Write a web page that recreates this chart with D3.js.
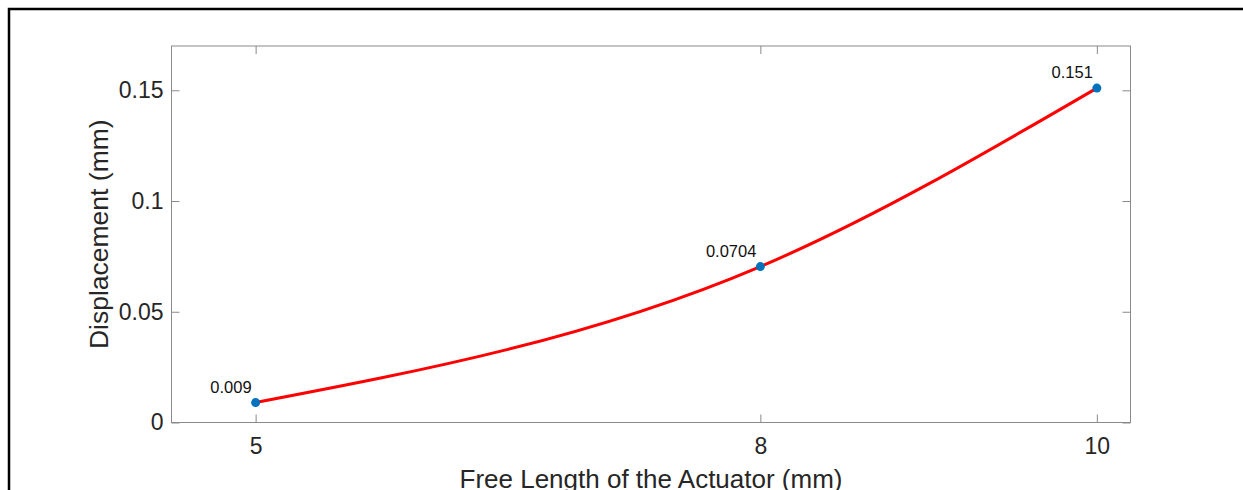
<!DOCTYPE html>
<html>
<head>
<meta charset="utf-8">
<script src="https://cdn.jsdelivr.net/npm/d3@7"></script>
<style>
  body { margin: 0; background: #fff; }
  svg { display: block; font-family: "Liberation Sans", Arial, Helvetica, sans-serif; }
</style>
</head>
<body>
<svg id="chart" width="1243" height="490"></svg>
<script>
// data
var lengths = [5, 8, 10];
var displacements = [0.009, 0.0704, 0.151];
var pointLabels = ["0.009", "0.0704", "0.151"];
var xTicks = [5, 8, 10];
var xTickLabels = ["5", "8", "10"];
var yTicks = [0, 0.05, 0.1, 0.15];
var yTickLabels = ["0", "0.05", "0.1", "0.15"];

var svg = d3.select("#chart");
// plot box edges (avoid "top", it is window.top)
var boxL = 171.5, boxR = 1130.5, boxT = 46, boxB = 422.5;

var x = d3.scaleLinear().domain([4.5, 10.2]).range([boxL, boxR]);
var y = d3.scaleLinear().domain([0, 0.17]).range([boxB, boxT]);

// outer figure frame (runs off the right/bottom edge)
svg.append("rect")
  .attr("x", 9).attr("y", 9)
  .attr("width", 1260).attr("height", 520)
  .attr("fill", "none")
  .attr("stroke", "#000")
  .attr("stroke-width", 2.5);

var tickLen = 8;
var axisColor = "#8a8a8a";

// axes box
svg.append("rect")
  .attr("x", boxL).attr("y", boxT)
  .attr("width", boxR - boxL).attr("height", boxB - boxT)
  .attr("fill", "none")
  .attr("stroke", axisColor)
  .attr("stroke-width", 1);

// ticks pointing inward on all four sides
var xAxisB = d3.axisBottom(x).tickValues(xTicks).tickSizeInner(-tickLen).tickSizeOuter(0)
  .tickPadding(15).tickFormat(function(d, i) { return xTickLabels[i]; });
var xAxisT = d3.axisTop(x).tickValues(xTicks).tickSizeInner(-tickLen).tickSizeOuter(0).tickFormat("");
var yAxisL = d3.axisLeft(y).tickValues(yTicks).tickSizeInner(-tickLen).tickSizeOuter(0)
  .tickPadding(8).tickFormat(function(d, i) { return yTickLabels[i]; });
var yAxisR = d3.axisRight(y).tickValues(yTicks).tickSizeInner(-tickLen).tickSizeOuter(0).tickFormat("");

function styleAxis(g) {
  g.attr("font-size", null).attr("font-family", null);
  g.select(".domain").remove();
  g.selectAll(".tick line").attr("stroke", axisColor);
  g.selectAll(".tick text")
    .attr("fill", "#262626")
    .style("font-size", "23px");
}

svg.append("g").attr("transform", "translate(0," + boxB + ")").call(xAxisB).call(styleAxis);
svg.append("g").attr("transform", "translate(0," + boxT + ")").call(xAxisT).call(styleAxis);
svg.append("g").attr("transform", "translate(" + boxL + ",0)").call(yAxisL).call(styleAxis);
svg.append("g").attr("transform", "translate(" + boxR + ",0)").call(yAxisR).call(styleAxis);

// fitted curve
var pts = lengths.map(function(d, i) { return [d, displacements[i]]; });
var line = d3.line()
  .x(function(d) { return x(d[0]); })
  .y(function(d) { return y(d[1]); })
  .curve(d3.curveMonotoneX);

svg.append("path")
  .attr("d", line(pts))
  .attr("fill", "none")
  .attr("stroke", "#ff0000")
  .attr("stroke-width", 3);

// data points
svg.append("g").selectAll("circle")
  .data(pts)
  .enter().append("circle")
  .attr("cx", function(d) { return x(d[0]); })
  .attr("cy", function(d) { return y(d[1]); })
  .attr("r", 4.5)
  .attr("fill", "#0072bd");

// value labels
svg.append("g").selectAll("text")
  .data(pts)
  .enter().append("text")
  .attr("x", function(d) { return x(d[0]) - 4; })
  .attr("y", function(d) { return y(d[1]) - 10; })
  .attr("text-anchor", "end")
  .attr("fill", "#111")
  .style("font-size", "16.5px")
  .text(function(d, i) { return pointLabels[i]; });

// axis titles
svg.append("text")
  .attr("x", (boxL + boxR) / 2)
  .attr("y", 488)
  .attr("text-anchor", "middle")
  .attr("fill", "#262626")
  .style("font-size", "26px")
  .text("Free Length of the Actuator (mm)");

svg.append("text")
  .attr("transform", "translate(108," + ((boxT + boxB) / 2) + ") rotate(-90)")
  .attr("text-anchor", "middle")
  .attr("fill", "#262626")
  .style("font-size", "26.5px")
  .text("Displacement (mm)");
</script>
</body>
</html>
